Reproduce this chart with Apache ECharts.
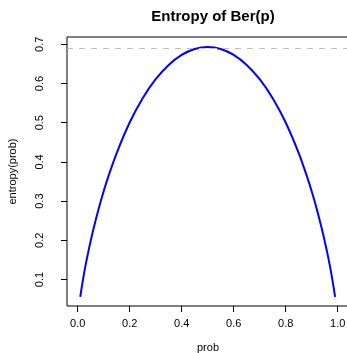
<!DOCTYPE html>
<html>
<head>
<meta charset="utf-8">
<script src="https://cdn.jsdelivr.net/npm/echarts@6/dist/echarts.min.js"></script>
<style>
  html, body { margin: 0; padding: 0; background: #fff; }
  #chart { width: 347px; height: 353px; }
</style>
</head>
<body>
<div id="chart"></div>
<script>
// probabilities and entropy
const prob = [0.01, 0.02, 0.03, 0.04, 0.05, 0.06, 0.08, 0.10, 0.12, 0.15, 0.20, 0.25, 0.30, 0.35, 0.40, 0.45, 0.50,
              0.55, 0.60, 0.65, 0.70, 0.75, 0.80, 0.85, 0.88, 0.90, 0.92, 0.94, 0.95, 0.96, 0.97, 0.98, 0.99];
const entropy = [0.0560, 0.0980, 0.1347, 0.1679, 0.1985, 0.2270, 0.2788, 0.3251, 0.3669, 0.4227, 0.5004, 0.5623, 0.6109, 0.6474, 0.6730, 0.6881, 0.6931,
                 0.6881, 0.6730, 0.6474, 0.6109, 0.5623, 0.5004, 0.4227, 0.3669, 0.3251, 0.2788, 0.2270, 0.1985, 0.1679, 0.1347, 0.0980, 0.0560];
const maxEntropy = 0.6931;
const xTicks = [0, 0.2, 0.4, 0.6, 0.8, 1.0];
const yTicks = [0.1, 0.2, 0.3, 0.4, 0.5, 0.6, 0.7];

const chart = echarts.init(document.getElementById('chart'));

const font = 'Liberation Sans, Arial, sans-serif';

const option = {
    animation: false,
    title: {
        text: 'Entropy of Ber(p)',
        left: 208,
        textAlign: 'center',
        top: 4,
        textStyle: { fontFamily: font, fontSize: 15, fontWeight: 'bold', color: '#000' },
    },
    grid: {
        left: 67,
        right: -2,
        top: 37,
        bottom: 47,
        outerBoundsMode: 'none',
        show: true,
        borderColor: '#000',
        borderWidth: 1,
    },
    xAxis: {
        type: 'value',
        min: -0.041,
        max: 1.0435,
        name: 'prob',
        nameLocation: 'middle',
        nameGap: 36,
        nameTextStyle: { fontFamily: font, fontSize: 11, color: '#000' },
        axisLine: { show: false, onZero: false },
        splitLine: { show: false },
        axisTick: { show: true, inside: false, length: 6, customValues: xTicks, lineStyle: { color: '#000' } },
        axisLabel: {
            customValues: xTicks,
            margin: 12,
            fontFamily: font,
            fontSize: 11,
            color: '#000',
            formatter: v => v.toFixed(1),
        },
    },
    yAxis: {
        type: 'value',
        min: 0.0325,
        max: 0.7186,
        name: 'entropy(prob)',
        nameLocation: 'middle',
        nameGap: 49,
        nameTextStyle: { fontFamily: font, fontSize: 11, color: '#000' },
        axisLine: { show: false, onZero: false },
        splitLine: { show: false },
        axisTick: { show: true, inside: false, length: 6, customValues: yTicks, lineStyle: { color: '#000' } },
        axisLabel: {
            customValues: yTicks,
            rotate: 90,
            margin: 22,
            fontFamily: font,
            fontSize: 11,
            color: '#000',
            formatter: v => v.toFixed(1),
        },
    },
    series: [
        {
            type: 'line',
            data: prob.map((p, i) => [p, entropy[i]]),
            smooth: 0.3,
            showSymbol: false,
            lineStyle: { color: '#0000ff', width: 2 },
            markLine: {
                silent: true,
                symbol: 'none',
                label: { show: false },
                lineStyle: { color: '#bebebe', type: [6, 6], width: 1 },
                data: [{ yAxis: maxEntropy }],
            },
        },
    ],
};
chart.setOption(option);
</script>
</body>
</html>
